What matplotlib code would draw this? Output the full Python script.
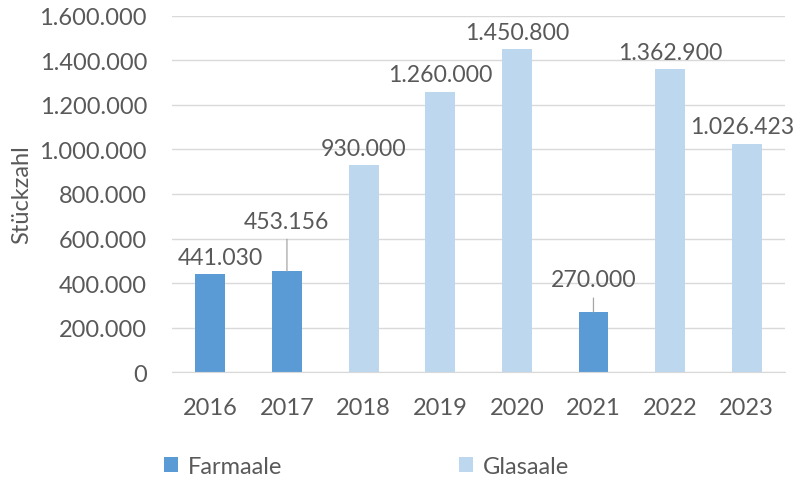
import matplotlib.pyplot as plt
from matplotlib.ticker import FuncFormatter
from matplotlib.patches import Patch

plt.rcParams['font.family'] = ['Lato', 'DejaVu Sans']

# Daten
jahre = ['2016', '2017', '2018', '2019', '2020', '2021', '2022', '2023']
stueckzahl = [441030, 453156, 930000, 1260000, 1450800, 270000, 1362900, 1026423]
art = ['Farmaale', 'Farmaale', 'Glasaale', 'Glasaale', 'Glasaale', 'Farmaale', 'Glasaale', 'Glasaale']

farben = {'Farmaale': '#5B9BD5', 'Glasaale': '#BDD7EE'}
textfarbe = '#595959'
gitter = '#D9D9D9'

# Beschriftungs-Versatz in Punkten (dx, dy), ausserdem ob Fuehrungslinie
versatz = {'2016': (7, 12, False), '2017': (0, 36, True), '2021': (0, 23, True),
           '2023': (-3, 12, False)}

def fmt(v):
    return f"{int(v):,}".replace(",", ".")

fig = plt.figure(figsize=(7.97, 4.81), dpi=100)
ax = fig.add_axes([0.2158, 0.2245, 0.985 - 0.2158, 0.9647 - 0.2245])

x = list(range(len(jahre)))
for i, (j, v, a) in enumerate(zip(jahre, stueckzahl, art)):
    ax.bar(i, v, width=0.39, color=farben[a], zorder=2)
    dx, dy, linie = versatz.get(j, (0, 12, False))
    ax.annotate(fmt(v), xy=(i, v), xytext=(dx, dy), textcoords='offset points',
                ha='center', va='center', fontsize=16.6, color=textfarbe)
    if linie:
        # Fuehrungslinie vom Label zum Balken
        ax.annotate('', xy=(i, v), xytext=(0, dy - 13), textcoords='offset points',
                    arrowprops=dict(arrowstyle='-', color='#A6A6A6', lw=0.9,
                                    shrinkA=0, shrinkB=0))

ax.set_xlim(-0.5, len(jahre) - 0.5)
ax.set_ylim(0, 1600000)
ax.set_yticks(range(0, 1600001, 200000))
ax.yaxis.set_major_formatter(FuncFormatter(lambda v, p: fmt(v)))
ax.set_xticks(x)
ax.set_xticklabels(jahre)
ax.tick_params(axis='both', length=0, labelsize=17, labelcolor=textfarbe)
ax.tick_params(axis='y', pad=18)
ax.tick_params(axis='x', pad=18)

ax.grid(axis='y', color=gitter, lw=1, zorder=0)
for s in ['top', 'right', 'left']:
    ax.spines[s].set_visible(False)
ax.spines['bottom'].set_color(gitter)

ax.set_ylabel('Stückzahl', fontsize=17, color=textfarbe)
ax.yaxis.set_label_coords(-0.228, 0.5)

handles = [Patch(facecolor=farben['Farmaale'], label='Farmaale'),
           Patch(facecolor=farben['Glasaale'], label='Glasaale')]
fig.legend(handles=handles, loc='center', bbox_to_anchor=(0.46, 0.028), ncol=2,
           frameon=False, fontsize=17, labelcolor=textfarbe,
           handlelength=0.6, handleheight=0.6, handletextpad=0.4, columnspacing=7.5)

fig.savefig('out.png', dpi=100, facecolor='white')
